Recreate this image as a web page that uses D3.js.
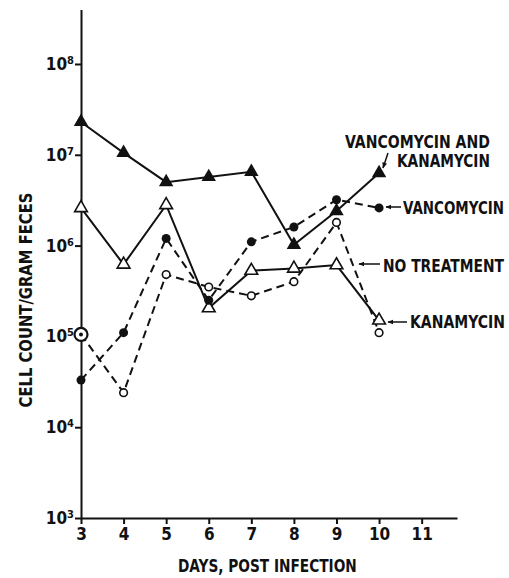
<!DOCTYPE html>
<html>
<head>
<meta charset="utf-8">
<script src="https://cdn.jsdelivr.net/npm/d3@7"></script>
<style>
  body { margin: 0; background: #fff; }
  text { font-family: "Liberation Sans Narrow", "DejaVu Sans Condensed", "Liberation Sans", sans-serif; font-weight: bold; fill: #111; }
</style>
</head>
<body>
<div id="chart"></div>
<script>
// data
var days = [3, 4, 5, 6, 7, 8, 9, 10];
var dayTicks = [3, 4, 5, 6, 7, 8, 9, 10, 11];
var powerTicks = [3, 4, 5, 6, 7, 8];
var vancKana = [2.3e7, 1.05e7, 5.0e6, 5.7e6, 6.5e6, 1.02e6, 2.4e6, 6.3e6];
var vanc     = [3.3e4, 1.1e5, 1.2e6, 2.5e5, 1.1e6, 1.6e6, 3.2e6, 2.6e6];
var noTreat  = [1.05e5, 2.4e4, 4.8e5, 3.5e5, 2.8e5, 4.0e5, 1.8e6, 1.1e5];
var kana     = [2.6e6, 6.2e5, 2.8e6, 2.05e5, 5.3e5, 5.6e5, 6.1e5, 1.5e5];

var W = 509, H = 578;
var svg = d3.select("#chart").append("svg")
    .attr("width", W).attr("height", H);

var x = d3.scaleLinear().domain([3, 11.83]).range([81, 457]);
var y = d3.scaleLog().domain([1e3, Math.pow(10, 8.6)]).range([518, 9.5]);

// arrow head
svg.append("defs").append("marker")
    .attr("id", "arr")
    .attr("viewBox", "0 0 10 10")
    .attr("refX", 9).attr("refY", 5)
    .attr("markerWidth", 6).attr("markerHeight", 6)
    .attr("markerUnits", "userSpaceOnUse")
    .attr("orient", "auto")
  .append("path").attr("d", "M0,1 L10,5 L0,9 Z").attr("fill", "#111");

// condensed bold lettering: squeeze each text horizontally to the width seen in the figure
function label(g, txt, x0, y0, len, rot) {
  var t = g.append("text")
      .attr("font-size", 17)
      .attr("text-anchor", rot ? "middle" : "start")
      .text(txt);
  var k = len / t.node().getComputedTextLength();
  t.attr("transform", "translate(" + x0 + "," + y0 + ")" + (rot ? " rotate(-90)" : "") + " scale(" + k + ",1)");
  return t;
}

// x axis
var xAxis = svg.append("g")
    .attr("transform", "translate(0," + y(1e3) + ")")
    .call(d3.axisBottom(x).tickValues(dayTicks).tickSize(6).tickSizeOuter(0).tickFormat(d3.format("d")));
xAxis.select(".domain").attr("stroke", "#111").attr("stroke-width", 2);
xAxis.selectAll(".tick line").attr("stroke", "#111").attr("stroke-width", 2);
xAxis.selectAll(".tick text").attr("y", 10).attr("font-size", 17).attr("fill", "#111")
    .style("font-family", null);

// y axis
var yAxis = svg.append("g")
    .attr("transform", "translate(" + x(3) + ",0)")
    .call(d3.axisLeft(y).tickValues(powerTicks.map(function(p){ return Math.pow(10, p); }))
          .tickSize(6).tickSizeOuter(0).tickFormat(""));
yAxis.select(".domain").attr("stroke", "#111").attr("stroke-width", 2);
yAxis.selectAll(".tick line").attr("stroke", "#111").attr("stroke-width", 2);

var ylab = svg.append("g").selectAll("text")
    .data(powerTicks).enter().append("text")
    .attr("x", 74)
    .attr("y", function(p){ return y(Math.pow(10, p)) + 6; })
    .attr("text-anchor", "end")
    .attr("font-size", 17);
ylab.append("tspan").text("10");
ylab.append("tspan").attr("dy", -6).attr("font-size", 11).text(function(p){ return p; });

// axis titles
label(svg, "DAYS, POST INFECTION", 178, 572, 179);
label(svg, "CELL COUNT/GRAM FECES", 32, 300, 215, true);

// lines
var line = d3.line()
    .x(function(d, i){ return x(days[i]); })
    .y(function(d){ return y(d); });

function drawLine(vals, dashed) {
  svg.append("path")
      .datum(vals)
      .attr("d", line)
      .attr("fill", "none")
      .attr("stroke", "#111")
      .attr("stroke-width", 2)
      .attr("stroke-dasharray", dashed ? "8,5" : null);
}
drawLine(noTreat, true);
drawLine(vanc, true);
drawLine(kana, false);
drawLine(vancKana, false);

// markers
var tri = d3.symbol().type(d3.symbolTriangle);

svg.append("g").selectAll("path")
    .data(vancKana).enter().append("path")
    .attr("d", tri.size(90)())
    .attr("transform", function(d, i){ return "translate(" + x(days[i]) + "," + y(d) + ")"; })
    .attr("fill", "#111");

svg.append("g").selectAll("path")
    .data(kana).enter().append("path")
    .attr("d", tri.size(70)())
    .attr("transform", function(d, i){ return "translate(" + x(days[i]) + "," + y(d) + ")"; })
    .attr("fill", "#fff").attr("stroke", "#111").attr("stroke-width", 1.6);

svg.append("g").selectAll("circle")
    .data(vanc).enter().append("circle")
    .attr("cx", function(d, i){ return x(days[i]); })
    .attr("cy", function(d){ return y(d); })
    .attr("r", 4.5)
    .attr("fill", "#111");

svg.append("g").selectAll("circle")
    .data(noTreat).enter().append("circle")
    .attr("cx", function(d, i){ return x(days[i]); })
    .attr("cy", function(d){ return y(d); })
    .attr("r", function(d, i){ return i === 0 ? 6.5 : 3.8; })
    .attr("fill", "#fff").attr("stroke", "#111")
    .attr("stroke-width", function(d, i){ return i === 0 ? 2.2 : 1.6; });

// dot inside the first no-treatment circle
svg.append("circle")
    .attr("cx", x(days[0])).attr("cy", y(noTreat[0]))
    .attr("r", 2).attr("fill", "#111");

// series labels
var lab = svg.append("g");
label(lab, "VANCOMYCIN AND", 345, 148, 145);
label(lab, "KANAMYCIN", 397, 167, 93);
label(lab, "VANCOMYCIN", 403, 214, 101);
label(lab, "NO TREATMENT", 383, 272, 121);
label(lab, "KANAMYCIN", 410, 328, 95);

var arrows = [
  [388, 153, 383, 168],
  [401, 207, 386, 207],
  [380, 264, 359, 264],
  [407, 322, 388, 322]
];
svg.append("g").selectAll("line")
    .data(arrows).enter().append("line")
    .attr("x1", function(d){ return d[0]; }).attr("y1", function(d){ return d[1]; })
    .attr("x2", function(d){ return d[2]; }).attr("y2", function(d){ return d[3]; })
    .attr("stroke", "#111").attr("stroke-width", 1.5)
    .attr("marker-end", "url(#arr)");
</script>
</body>
</html>
